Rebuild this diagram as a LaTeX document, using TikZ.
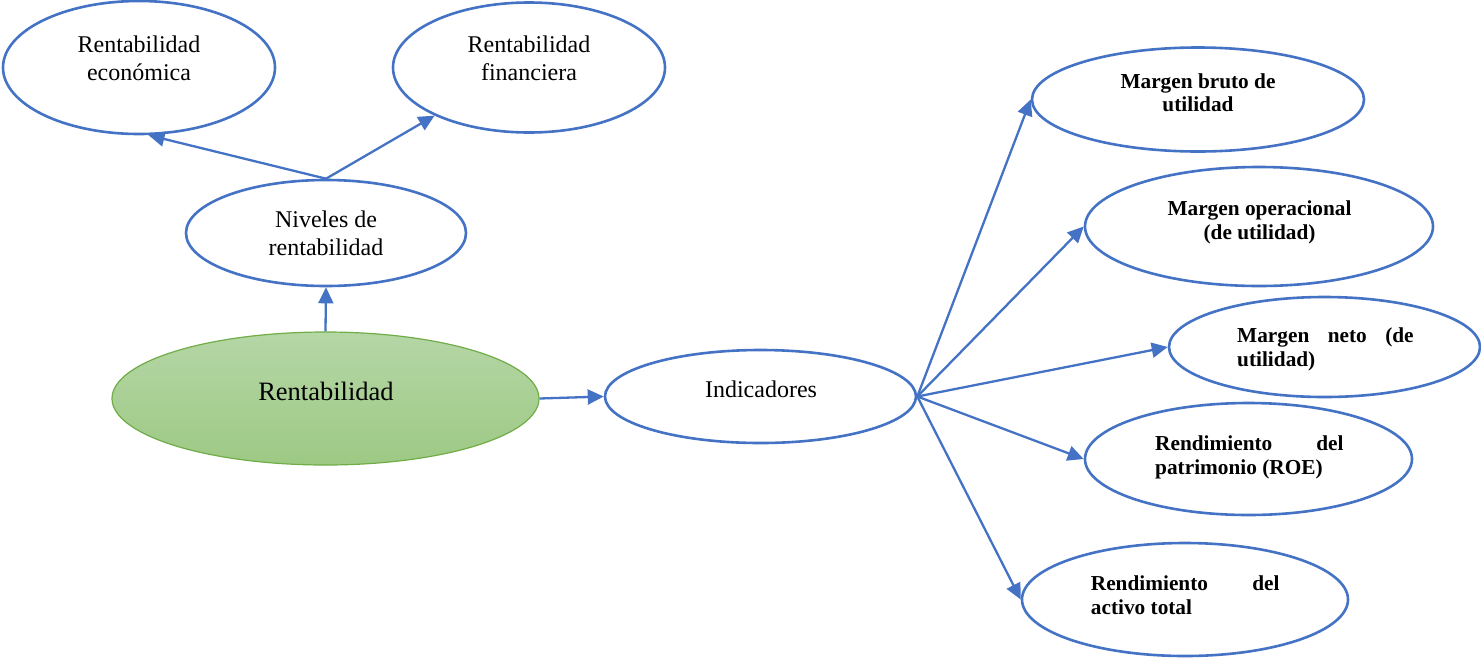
\documentclass[tikz,border=0pt]{standalone}
\usepackage{fontspec}
\setmainfont{Liberation Serif}
\usetikzlibrary{shapes.geometric,arrows.meta}
\definecolor{lineblue}{HTML}{4472C4}
\definecolor{grborder}{HTML}{70AD47}
\definecolor{grtop}{RGB}{181,214,166}
\definecolor{grbot}{RGB}{157,201,132}
\begin{document}
\begin{tikzpicture}[x=1pt,y=-1pt,
  ell/.style={ellipse, draw=lineblue, line width=2.6pt, inner sep=0pt, fill=white},
  conn/.style={draw=lineblue, line width=2.3pt, -{Triangle[length=16pt,width=15pt]}},
  reg/.style={font=\fontsize{24}{28}\selectfont, inner sep=0pt, anchor=base},
  bld/.style={font=\fontsize{21.3}{23.5}\selectfont\bfseries, inner sep=0pt},
]
\useasboundingbox (0,0) rectangle (1481,657);
% ellipses
\node[ell, minimum width=272pt, minimum height=133pt] (econ) at (139,67.5) {};
\node[ell, minimum width=272pt, minimum height=130pt] (fin) at (529,67.5) {};
\node[ell, minimum width=280pt, minimum height=106pt] (niv) at (326,233) {};
\node[ellipse, draw=grborder, line width=1.2pt, top color=grtop, bottom color=grbot,
      inner sep=0pt, minimum width=427pt, minimum height=133pt] (rent) at (325.5,398.5) {};
\node[ell, minimum width=311pt, minimum height=93pt] (ind) at (760.5,396.5) {};
\node[ell, minimum width=332pt, minimum height=104pt] (mb) at (1198,99.5) {};
\node[ell, minimum width=348pt, minimum height=119pt] (mo) at (1259,226.5) {};
\node[ell, minimum width=311pt, minimum height=100pt] (mn) at (1324.5,347) {};
\node[ell, minimum width=327pt, minimum height=112pt] (rp) at (1248.5,459) {};
\node[ell, minimum width=326pt, minimum height=113pt] (ra) at (1185,599.5) {};
% connectors
\draw[conn] (niv.north) -- (econ.-82);
\draw[conn] (niv.north) -- (fin.-153.4);
\draw[conn] (rent.north) -- (niv.south);
\draw[conn] (rent.east) -- (ind.west);
\draw[conn] (ind.east) -- (mb.west);
\draw[conn] (ind.east) -- (mo.west);
\draw[conn] (ind.east) -- (mn.west);
\draw[conn] (ind.east) -- (rp.west);
\draw[conn] (ind.east) -- (ra.west);
% texts
\node[reg] (econ1) at (139,52.7) {Rentabilidad};
\node[reg] (econ2) at (139,80.7) {económica};
\node[reg] (fin1) at (529,52.7) {Rentabilidad};
\node[reg] (fin2) at (529,80.7) {financiera};
\node[reg] (niv1) at (326,227.7) {Niveles de};
\node[reg] (niv2) at (326,255.7) {rentabilidad};
\node[reg, font=\fontsize{26.5}{30}\selectfont] (rentT) at (326,400.7) {Rentabilidad};
\node[reg] (indT) at (761,397.3) {Indicadores};
\node[bld, anchor=base] (mb1) at (1198,88.3) {Margen bruto de};
\node[bld, anchor=base] (mb2) at (1198,111.7) {utilidad};
\node[bld, anchor=base] (mo1) at (1259.5,215.7) {Margen operacional};
\node[bld, anchor=base] (mo2) at (1259.5,239) {(de utilidad)};
\node[bld, anchor=base west] (mn1) at (1237,342.3) {\hbox to 176.5pt{Margen\hfill neto\hfill (de}};
\node[bld, anchor=base west] (mn2) at (1237,366) {utilidad)};
\node[bld, anchor=base west] (rp1) at (1155,450.7) {\hbox to 188.3pt{Rendimiento\hfill del}};
\node[bld, anchor=base west] (rp2) at (1155,474.3) {patrimonio (ROE)};
\node[bld, anchor=base west] (ra1) at (1090.7,590.7) {\hbox to 188.6pt{Rendimiento\hfill del}};
\node[bld, anchor=base west] (ra2) at (1090.7,614.3) {activo total};
\end{tikzpicture}
\end{document}
